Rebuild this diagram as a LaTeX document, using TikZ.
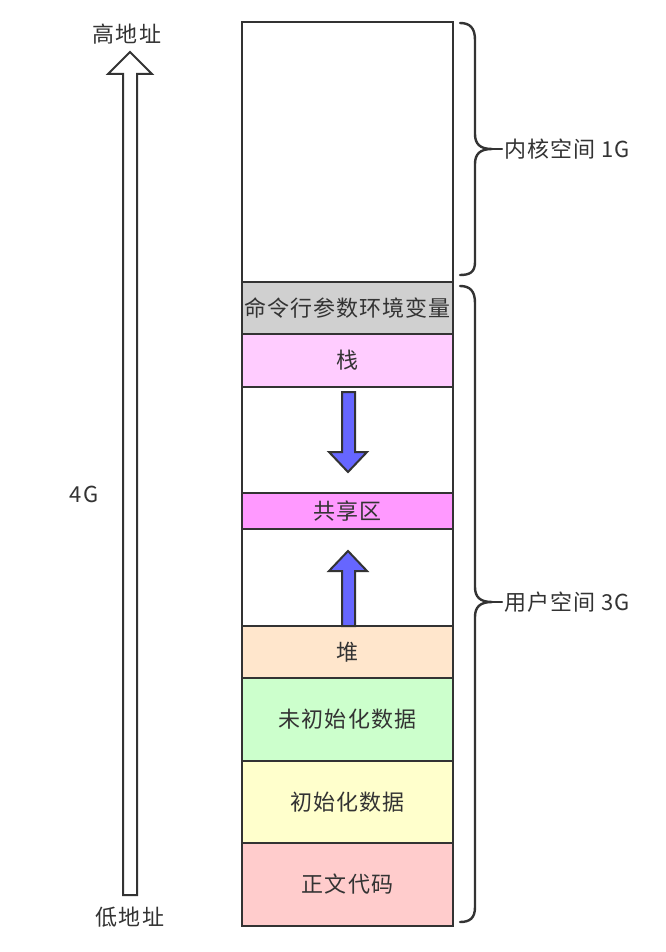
\documentclass[tikz,border=0pt]{standalone}
\usepackage{fontspec}
\setmainfont{Noto Sans CJK SC}[LetterSpace=5]
\begin{document}
\definecolor{ink}{HTML}{333333}
\definecolor{argsgray}{HTML}{D0D0D0}
\definecolor{stackpink}{HTML}{FFCCFF}
\definecolor{sharedpink}{HTML}{FF99FF}
\definecolor{heappeach}{HTML}{FFE6CC}
\definecolor{bssgreen}{HTML}{CCFFCC}
\definecolor{datayellow}{HTML}{FFFFCC}
\definecolor{textred}{HTML}{FFCCCC}
\definecolor{growblue}{HTML}{6666FF}
\begin{tikzpicture}[x=1pt,y=-1pt,
  every node/.style={text=ink,font=\fontsize{22}{26}\selectfont},
  seg/.style={draw=ink,line width=2.4pt,minimum width=211pt,inner sep=0pt,outer sep=0pt},
  lbl/.style={inner sep=0pt},
  bracepath/.style={draw=ink,line width=2.4pt,line cap=round,line join=round},
  growarrow/.style={draw=ink,fill=growblue,line width=2pt,line join=miter},
  addrarrow/.style={draw=ink,fill=white,line width=2pt,line join=miter}]
\useasboundingbox (0,0) rectangle (665,952);

% memory segments, top (high addresses) to bottom (low addresses)
\node[seg,fill=white,minimum height=260pt]      (kernel) at (347.5,152)   {};
\node[seg,fill=argsgray,minimum height=52pt]    (args)   at (347.5,308)   {命令行参数环境变量};
\node[seg,fill=stackpink,minimum height=53pt]   (stack)  at (347.5,360.5) {栈};
\node[seg,fill=white,minimum height=106pt]      (gapA)   at (347.5,440)   {};
\node[seg,fill=sharedpink,minimum height=36pt]  (shared) at (347.5,511)   {共享区};
\node[seg,fill=white,minimum height=97pt]       (gapB)   at (347.5,577.5) {};
\node[seg,fill=heappeach,minimum height=52pt]   (heap)   at (347.5,652)   {堆};
\node[seg,fill=bssgreen,minimum height=83pt]    (bss)    at (347.5,719.5) {未初始化数据};
\node[seg,fill=datayellow,minimum height=82pt]  (data)   at (347.5,802)   {初始化数据};
\node[seg,fill=textred,minimum height=83pt]     (text)   at (347.5,884.5) {正文代码};

% stack grows down, heap grows up
\draw[growarrow] (342,392) -- (342,452) -- (329,452) -- (348,472) -- (367,452) -- (355,452) -- (355,392) -- cycle;
\draw[growarrow] (342,626) -- (342,571) -- (329,571) -- (348,551) -- (367,571) -- (355,571) -- (355,626) -- cycle;

% address axis
\draw[addrarrow] (123,895) -- (123,74) -- (108,74) -- (130,52) -- (152,74) -- (137,74) -- (137,895) -- cycle;
\node[lbl] (high) at (127,34)  {高地址};
\node[lbl] (low)  at (130,917) {低地址};
\node[lbl] (total) at (84,494) {4G};

% kernel space brace
\coordinate (ktip) at (502,149);
\draw[bracepath] (460,23) .. controls (470,23) and (475,28) .. (475,40) -- (475,134)
  .. controls (475,144) and (480,149) .. (492,149)
  .. controls (480,149) and (475,154) .. (475,164) -- (475,262)
  .. controls (475,272) and (470,275) .. (460,275);
\draw[bracepath] (492,149) -- (ktip);
\node[lbl,anchor=west] (klabel) at ([xshift=2pt]ktip) {内核空间 1G};

% user space brace
\coordinate (utip) at (502,602);
\draw[bracepath] (460,286) .. controls (470,286) and (475,291) .. (475,303) -- (475,587)
  .. controls (475,597) and (480,602) .. (492,602)
  .. controls (480,602) and (475,607) .. (475,617) -- (475,907)
  .. controls (475,918) and (470,922) .. (460,922);
\draw[bracepath] (492,602) -- (utip);
\node[lbl,anchor=west] (ulabel) at ([xshift=2pt]utip) {用户空间 3G};
\end{tikzpicture}
\end{document}
